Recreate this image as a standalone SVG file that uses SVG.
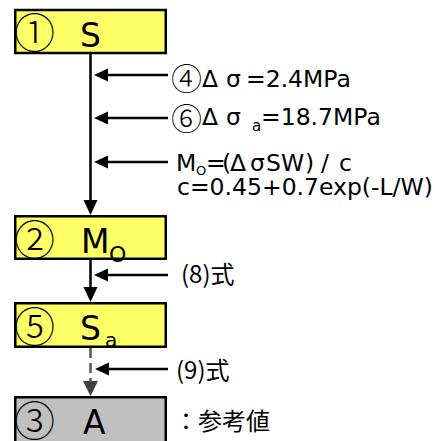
<svg xmlns="http://www.w3.org/2000/svg" width="435" height="441" viewBox="0 0 435 441">
<style>
.box{stroke:#000;stroke-width:2.5}
.y{fill:#ffff66}
.g{fill:#c0c0c0}
.big{font-family:"DejaVu Sans","Noto Sans CJK JP",sans-serif;font-size:33px;fill:#000}
.num{font-family:"Noto Sans CJK JP",sans-serif;font-size:41px;font-weight:200;fill:#000}
.cn{font-family:"Noto Sans CJK JP",sans-serif;font-size:31px;font-weight:200}
.lbl{font-family:"DejaVu Sans","Noto Sans CJK JP",sans-serif;font-size:23.5px;fill:#000}
.jp{font-family:"Noto Sans CJK JP",sans-serif;font-size:24px;fill:#000}
.ln{stroke:#000;stroke-width:2.5;fill:none}
.ah{fill:#000}
</style>
<rect width="435" height="441" fill="#fff"/>
<g id="connectors">
  <line class="ln" x1="90.5" y1="54" x2="90.5" y2="201"/>
  <polygon class="ah" points="83.5,200 97.5,200 90.5,215"/>
  <line class="ln" x1="90.5" y1="260" x2="90.5" y2="288"/>
  <polygon class="ah" points="83.5,287 97.5,287 90.5,302"/>
  <line x1="90.5" y1="348" x2="90.5" y2="382" stroke="#555" stroke-width="2.5" stroke-dasharray="10,5"/>
  <polygon fill="#404040" points="83,381 98,381 90.5,396"/>
  <g id="side-arrows">
    <line class="ln" x1="107" y1="75" x2="168" y2="75"/>
    <polygon class="ah" points="94,75 108,68.5 108,81.5"/>
    <line class="ln" x1="107" y1="118" x2="168" y2="118"/>
    <polygon class="ah" points="94,118 108,111.5 108,124.5"/>
    <line class="ln" x1="107" y1="162" x2="168" y2="162"/>
    <polygon class="ah" points="94,162 108,155.5 108,168.5"/>
    <line class="ln" x1="107" y1="275" x2="168" y2="275"/>
    <polygon class="ah" points="94,275 108,268.5 108,281.5"/>
    <line class="ln" x1="107" y1="369" x2="168" y2="369"/>
    <polygon class="ah" points="95,369 109,362.5 109,375.5"/>
  </g>
</g>
<g id="node-S">
  <rect class="box y" x="15.25" y="10" width="150.5" height="43"/>
  <text class="num" x="14" y="47.5">①</text>
  <text class="big" x="80" y="46.5">S</text>
</g>
<g id="node-M0">
  <rect class="box y" x="15.25" y="216.25" width="150.5" height="42.5"/>
  <text class="num" x="14" y="254.5">②</text>
  <text class="big" x="81" y="252.5">M<tspan x="109" font-size="22" dy="9">O</tspan></text>
</g>
<g id="node-Sa">
  <rect class="box y" x="15.25" y="303.25" width="150.5" height="43.5"/>
  <text class="num" x="14" y="342">⑤</text>
  <text class="big" x="80" y="340">S<tspan x="105" font-size="20" dy="7">a</tspan></text>
</g>
<g id="node-A">
  <rect class="box g" x="15.25" y="397.25" width="150.5" height="60"/>
  <text class="num" x="14" y="435.5">③</text>
  <text class="big" x="83" y="434">A</text>
</g>
<g id="labels">
  <text class="lbl" y="87"><tspan class="cn" x="171" y="89.5">④</tspan><tspan x="202" y="87">Δ</tspan><tspan x="226">σ</tspan><tspan x="246">=2.4MPa</tspan></text>
  <text class="lbl" y="125"><tspan class="cn" x="171" y="129.5">⑥</tspan><tspan x="202" y="125">Δ</tspan><tspan x="226">σ</tspan><tspan x="252" dy="6" font-size="15">a</tspan><tspan x="261" dy="-6">=18.7MPa</tspan></text>
  <text class="lbl" y="171"><tspan x="176">M</tspan><tspan x="196" dy="4" font-size="13">O</tspan><tspan x="206" dy="-4">=</tspan><tspan x="222">(</tspan><tspan x="230">Δ</tspan><tspan x="250">σ</tspan><tspan x="266">SW</tspan><tspan x="305">)</tspan><tspan x="321">/</tspan><tspan x="339">c</tspan></text>
  <text class="lbl" x="177" y="195">c=0.45+0.7exp(-L/W)</text>
  <text class="jp" x="181" y="283">(8)式</text>
  <text class="jp" x="176" y="379">(9)式</text>
  <text class="jp" x="174" y="430">：参考値</text>
</g>
</svg>
